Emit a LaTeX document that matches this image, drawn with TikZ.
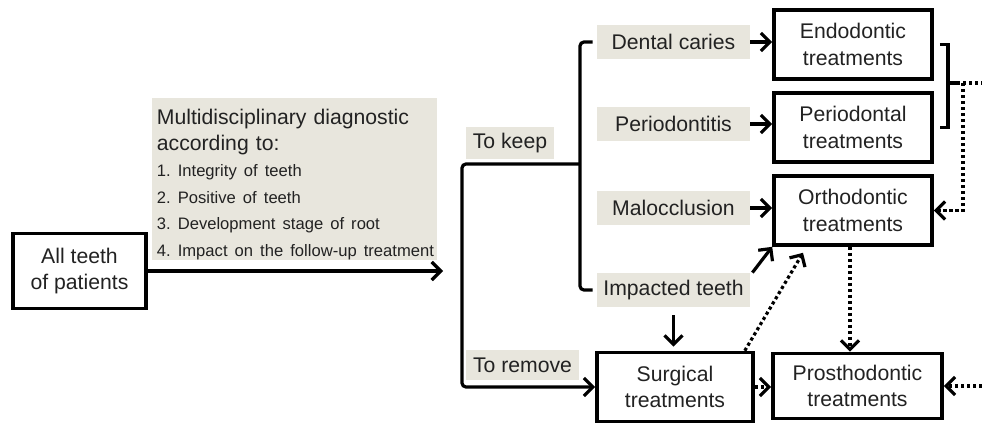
\documentclass[tikz,border=0pt]{standalone}
\usepackage{fontspec}
\setmainfont{Liberation Sans}
\usepackage{xcolor}
\usetikzlibrary{arrows.meta}
\definecolor{causebg}{RGB}{232,230,221}
\definecolor{inktext}{RGB}{34,34,34}
\frenchspacing
\newcommand{\critline}[1]{\mbox{\fontsize{8.3}{13.2}\selectfont #1}}

\begin{document}
\begin{tikzpicture}[x=0.5pt, y=-0.5pt, font=\fontsize{10.6}{13.2}\selectfont, text=inktext,
  treat/.style={draw, line width=1.8pt, align=center, minimum width=79pt, minimum height=34.5pt, inner sep=2pt},
  cause/.style={fill=causebg, minimum width=76.5pt, minimum height=17pt, inner sep=0pt},
  tag/.style={fill=causebg, inner xsep=3.5pt, inner ysep=0pt, minimum height=16pt},
  line/.style={line width=1.6pt},
  link/.style={line, -{Straight Barb[length=4.5pt, width=9pt]}},
  dlink/.style={link, dash pattern=on 1.6pt off 1.4pt}]
\useasboundingbox (0,0) rectangle (982,423);
\node[treat, minimum width=66.5pt, minimum height=37.5pt] (all) at (79.5,271) {All teeth\\of patients};
\node[fill=causebg, anchor=north west, align=left, text width=138pt, minimum height=81pt, inner xsep=2.25pt, inner ysep=0pt] (diag) at (152,98) {\rule{0pt}{12.5pt}Multidisciplinary diagnostic\\according to:\\\critline{1. Integrity of teeth}\\\critline{2. Positive of teeth}\\\critline{3. Development stage of root}\\\critline{4. Impact on the follow-up treatment}};
\node[tag] (keep) at (510,143) {To keep};
\node[tag, minimum height=15pt] (remove) at (522.5,365) {To remove};
\node[cause] (caries) at (673.5,42) {Dental caries};
\node[cause] (perio) at (673.5,124) {Periodontitis};
\node[cause] (maloc) at (673.5,208) {Malocclusion};
\node[cause] (impact) at (673.5,290) {Impacted teeth};
\node[treat] (endo) at (853,44.5) {Endodontic\\treatments};
\node[treat] (pdon) at (853,127.5) {Periodontal\\treatments};
\node[treat] (ortho) at (853,210.5) {Orthodontic\\treatments};
\node[treat, minimum width=78pt] (surg) at (675,387) {Surgical\\treatments};
\node[treat, minimum width=84.5pt, minimum height=32.5pt] (prosth) at (857.5,386) {Prosthodontic\\treatments};
\coordinate (split) at (443,271);
\coordinate (root) at (462,164);
\coordinate (bar) at (580,164);
\coordinate (brk) at (948,83);
\coordinate (drop) at (963,83);
\coordinate (exitA) at (982,83);
\coordinate (exitB) at (982,386);
\draw[link] (all.east) -- (split);
\draw[link, rounded corners=2pt] (bar) -- (root) |- (surg.west);
\draw[line, rounded corners=2pt] ([xshift=-2pt]caries.west) -| (bar) |- ([xshift=-2pt]impact.west);
\draw[link] (caries.east) -- (caries.east -| endo.west);
\draw[link] (perio.east) -- (perio.east -| pdon.west);
\draw[link] (maloc.east) -- (maloc.east -| ortho.west);
\draw[link] ([yshift=-4pt]impact.south) -- ([yshift=2pt]impact.south |- surg.north);
\draw[link] ([xshift=1pt]impact.north east) -- (ortho.south west);
\draw[dlink] ([xshift=-5pt]surg.north east) -- ([xshift=-25pt, yshift=-3pt]ortho.south);
\draw[dlink] ([xshift=-1.5pt]ortho.south) -- ([xshift=-1.5pt]ortho.south |- prosth.north);
\draw[dlink] (surg.east) -- (surg.east -| prosth.west);
\draw[dlink] (exitB) -- (prosth.east);
\draw[line] ([xshift=3pt]endo.east) -| (brk) |- ([xshift=3pt]pdon.east);
\draw[line] (brk) -- ([xshift=-3pt]drop);
\draw[line, dash pattern=on 1.6pt off 1.4pt] ([xshift=-3pt]drop) -- (exitA);
\draw[dlink] (drop) |- (ortho.east);
\end{tikzpicture}
\end{document}
